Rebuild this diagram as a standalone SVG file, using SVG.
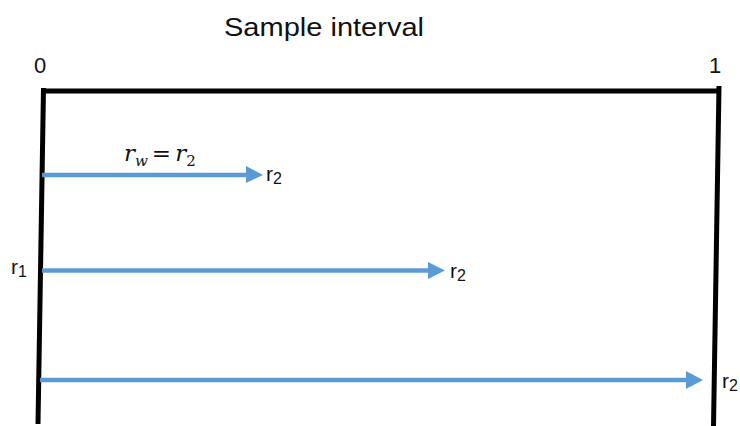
<svg xmlns="http://www.w3.org/2000/svg" width="740" height="426" viewBox="0 0 740 426">
<defs>
<style>
.lbl{font-family:"Liberation Sans",Arial,sans-serif;fill:#111;}
.bar{stroke:#000;stroke-width:5;fill:none;}
.arr{stroke:#5B9BD5;stroke-width:4.5;fill:none;}
.head{fill:#5B9BD5;}
.math{font-family:"DejaVu Serif","Liberation Serif",serif;font-style:italic;fill:#111;}
</style>
</defs>
<rect width="740" height="426" fill="#fff"/>
<g id="title"><text class="lbl" x="224" y="36" font-size="25" textLength="200" lengthAdjust="spacingAndGlyphs">Sample interval</text></g>
<g id="interval">
<line class="bar" x1="43.5" y1="88" x2="38" y2="424"/>
<line class="bar" x1="719" y1="86" x2="713.5" y2="426"/>
<line class="bar" x1="41" y1="91" x2="721" y2="91"/>
<text class="lbl" x="34" y="73" font-size="22">0</text>
<text class="lbl" x="709" y="73" font-size="22">1</text>
</g>
<g id="r1"><text class="lbl" x="11" y="274" font-size="21">r<tspan font-size="16" dy="3">1</tspan></text></g>
<g id="connectors">
<line class="arr" x1="42" y1="175" x2="248" y2="175"/>
<polygon class="head" points="246,166 263,175 246,183"/>
<line class="arr" x1="42" y1="270.5" x2="430" y2="270.5"/>
<polygon class="head" points="428,262 445,270.5 428,279"/>
<line class="arr" x1="40" y1="380" x2="688" y2="380"/>
<polygon class="head" points="686,371 703,380 686,389"/>
</g>
<g id="label-a">
<text class="lbl" x="266" y="181" font-size="21">r<tspan font-size="16" dy="3">2</tspan></text>
<text class="math" x="124" y="161" font-size="23">r<tspan font-size="15" dy="5">w</tspan><tspan font-style="normal" dy="-5" dx="4">=</tspan><tspan dx="4">r</tspan><tspan font-style="normal" font-size="15" dy="5">2</tspan></text>
</g>
<g id="label-b"><text class="lbl" x="450" y="278" font-size="21">r<tspan font-size="16" dy="3">2</tspan></text></g>
<g id="label-c"><text class="lbl" x="722" y="388" font-size="21">r<tspan font-size="16" dy="3">2</tspan></text></g>
</svg>
